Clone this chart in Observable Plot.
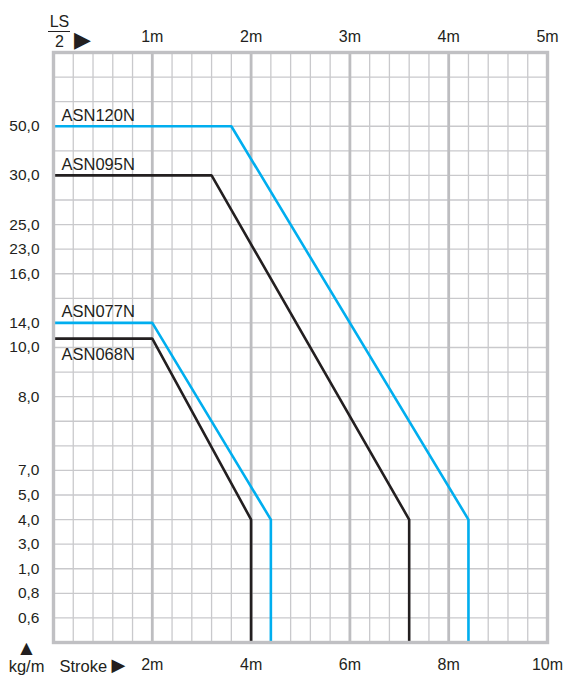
<!DOCTYPE html>
<html>
<head>
<meta charset="utf-8">
<script src="https://cdn.jsdelivr.net/npm/d3@7"></script>
<script src="https://cdn.jsdelivr.net/npm/@observablehq/plot@0.6"></script>
<style>
  html, body { margin: 0; padding: 0; background: #fff; }
  #wrap { position: relative; width: 564px; height: 675px; }
  #frac { position: absolute; left: 48px; top: 31px; width: 22px; height: 0; border-top: 1.3px solid #231f20; }
</style>
</head>
<body>
<div id="wrap"><div id="frac"></div></div>
<script>
// ---- data ----
const topTickValues = [1, 2, 3, 4, 5];               // LS/2 in m
const topTickLabels = ["1m", "2m", "3m", "4m", "5m"];
const bottomTickLabels = ["2m", "4m", "6m", "8m", "10m"]; // stroke at same positions

const yTickRows = [21, 19, 17, 16, 15, 13, 12, 10, 7, 6, 5, 4, 3, 2, 1];
const yTickLabels = ["50,0", "30,0", "25,0", "23,0", "16,0", "14,0", "10,0", "8,0",
                     "7,0", "5,0", "4,0", "3,0", "1,0", "0,8", "0,6"];

const seriesNames = ["ASN120N", "ASN095N", "ASN077N", "ASN068N"];
const seriesColors = ["#00aeef", "#231f20", "#00aeef", "#231f20"];
const plateauRow = [21, 19, 13, 12.36];   // kg/m level (row on chart)
const kneeX = [1.8, 1.6, 1.0, 1.0];       // LS/2 (m) where the plateau ends
const endX = [4.2, 3.6, 2.2, 2.0];        // LS/2 (m) maximum
const endRow = [5, 5, 5, 5];              // 4,0 kg/m row
const baseRow = 0;

const points = seriesNames.flatMap((name, i) => [
  {name, x: 0, y: plateauRow[i]},
  {name, x: kneeX[i], y: plateauRow[i]},
  {name, x: endX[i], y: endRow[i]},
  {name, x: endX[i], y: baseRow}
]);
const labels = seriesNames.map((name, i) => ({name, x: 0, y: plateauRow[i]}));

const majorX = [1, 2, 3, 4];
const minorX = d3.range(0.2, 5, 0.2).filter(v => Math.abs(v - Math.round(v)) > 1e-6);
const gridY = d3.range(1, 24);

const font = "Arial, 'Liberation Sans', Helvetica, sans-serif";
const symFont = "'DejaVu Sans', sans-serif";
const ink = "#231f20";

const chart = Plot.plot({
  width: 564,
  height: 675,
  marginLeft: 53,
  marginRight: 17,
  marginTop: 52,
  marginBottom: 33,
  style: {fontFamily: font, fontSize: "15px", color: ink, background: "transparent"},
  x: {domain: [0, 5]},
  y: {domain: [0, 24]},
  color: {domain: seriesNames, range: seriesColors},
  marks: [
    Plot.ruleY(gridY, {stroke: "#c9c9cc", strokeWidth: 1.3, strokeOpacity: 1}),
    Plot.ruleX(minorX, {stroke: "#c9c9cc", strokeWidth: 1.3, strokeOpacity: 1}),
    Plot.ruleX(majorX, {stroke: "#bdbdc0", strokeWidth: 2.8, strokeOpacity: 1}),
    Plot.line(points, {x: "x", y: "y", z: "name", stroke: "name", strokeWidth: 2.6, strokeLinejoin: "miter", curve: "linear"}),
    Plot.frame({stroke: "#c0c0c3", strokeWidth: 3.4, strokeOpacity: 1}),
    Plot.text(labels.filter(d => d.name !== "ASN068N"), {x: "x", y: "y", text: "name", textAnchor: "start", dx: 8, dy: -11, fontSize: 16.5, fill: ink}),
    Plot.text(labels.filter(d => d.name === "ASN068N"), {x: "x", y: "y", text: "name", textAnchor: "start", dx: 8, dy: 16, fontSize: 16.5, fill: ink}),
    Plot.axisX({anchor: "top", ticks: topTickValues, tickFormat: d => topTickLabels[topTickValues.indexOf(d)], tickSize: 0, tickPadding: 11, fontSize: 16, label: null}),
    Plot.axisX({anchor: "bottom", ticks: topTickValues, tickFormat: d => bottomTickLabels[topTickValues.indexOf(d)], tickSize: 0, tickPadding: 16, fontSize: 16, label: null}),
    Plot.axisY({ticks: yTickRows, tickFormat: d => yTickLabels[yTickRows.indexOf(d)], tickSize: 0, tickPadding: 14, fontSize: 15.5, label: null}),
    Plot.text(["LS"], {frameAnchor: "top-left", text: d => d, dx: 6, dy: -31, textAnchor: "middle", lineAnchor: "middle", fontSize: 16, fill: ink}),
    Plot.text(["2"], {frameAnchor: "top-left", text: d => d, dx: 6, dy: -11, textAnchor: "middle", lineAnchor: "middle", fontSize: 16, fill: ink}),
    Plot.text(["\u25B6"], {frameAnchor: "top-left", text: d => d, dx: 29, dy: -13, textAnchor: "middle", lineAnchor: "middle", fontSize: 22, fontFamily: symFont, fill: ink}),
    Plot.text(["\u25B2"], {frameAnchor: "bottom-left", text: d => d, dx: -27, dy: 5, textAnchor: "middle", lineAnchor: "middle", fontSize: 16, fontFamily: symFont, fill: ink}),
    Plot.text(["kg/m"], {frameAnchor: "bottom-left", text: d => d, dx: -27, dy: 24, textAnchor: "middle", lineAnchor: "middle", fontSize: 16.5, fill: ink}),
    Plot.text(["Stroke"], {frameAnchor: "bottom-left", text: d => d, dx: 6, dy: 24, textAnchor: "start", lineAnchor: "middle", fontSize: 16.5, fill: ink}),
    Plot.text(["\u25B6"], {frameAnchor: "bottom-left", text: d => d, dx: 65, dy: 23, textAnchor: "middle", lineAnchor: "middle", fontSize: 18, fontFamily: symFont, fill: ink})
  ]
});
document.getElementById("wrap").prepend(chart);
</script>
</body>
</html>
